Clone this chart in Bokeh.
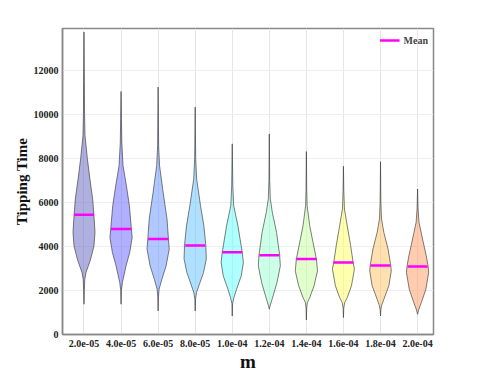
from bokeh.plotting import figure
from bokeh.models import Range1d, FixedTicker, Legend, LegendItem
from bokeh.embed import file_html
from bokeh.resources import INLINE

# ---- data ----
categories = ["2.0e-05", "4.0e-05", "6.0e-05", "8.0e-05", "1.0e-04",
              "1.2e-04", "1.4e-04", "1.6e-04", "1.8e-04", "2.0e-04"]
means = [5440, 4790, 4335, 4045, 3740, 3605, 3425, 3270, 3135, 3085]

# violin profiles: tipping-time knots and relative density (max = 1)
v1_y = [1375, 2000, 2500, 2815, 3425, 4030, 4640, 5440, 6160, 7070, 7990, 9040, 10000, 11500, 13740]
v1_d = [0, 0.03, 0.07, 0.18, 0.6, 0.9, 0.99, 0.89, 0.78, 0.53, 0.3, 0.09, 0.05, 0.035, 0]
v2_y = [1375, 2000, 2360, 3120, 3725, 4410, 4790, 5850, 6760, 7670, 8700, 9800, 11040]
v2_d = [0, 0.03, 0.12, 0.45, 0.78, 1.0, 0.93, 0.75, 0.48, 0.18, 0.07, 0.035, 0]
v3_y = [1070, 1700, 2060, 2510, 3120, 3880, 4335, 5250, 6460, 7670, 8580, 11240]
v3_d = [0, 0.03, 0.09, 0.34, 0.72, 1.0, 0.93, 0.8, 0.45, 0.13, 0.045, 0]
v4_y = [1070, 1600, 1905, 2285, 2815, 3425, 4045, 4940, 5850, 7070, 8000, 10330]
v4_d = [0, 0.03, 0.12, 0.38, 0.75, 1.0, 0.96, 0.78, 0.48, 0.13, 0.045, 0]
v5_y = [840, 1400, 1675, 2060, 2665, 3270, 3725, 4940, 5850, 6760, 8660]
v5_d = [0, 0.03, 0.15, 0.39, 0.81, 1.0, 0.9, 0.51, 0.13, 0.05, 0]
v6_y = [1150, 1300, 1755, 2360, 3120, 3605, 4640, 5550, 6160, 7000, 9110]
v6_d = [0, 0.07, 0.34, 0.69, 0.99, 0.93, 0.65, 0.27, 0.09, 0.035, 0]
v7_y = [660, 1200, 1450, 1675, 2210, 2890, 3425, 4180, 4940, 5850, 6500, 8310]
v7_d = [0, 0.03, 0.09, 0.3, 0.69, 1.0, 0.9, 0.6, 0.3, 0.07, 0.035, 0]
v8_y = [770, 1200, 1450, 1675, 2210, 2970, 3270, 4030, 4940, 5700, 6500, 7640]
v8_d = [0, 0.03, 0.11, 0.34, 0.72, 0.99, 0.87, 0.65, 0.34, 0.09, 0.035, 0]
v9_y = [840, 1100, 1300, 1600, 2210, 2890, 3150, 3880, 4640, 5250, 6000, 7850]
v9_d = [0, 0.03, 0.09, 0.3, 0.75, 0.97, 0.92, 0.68, 0.3, 0.09, 0.035, 0]
v10_y = [920, 1150, 1450, 2060, 2815, 3090, 3575, 4335, 5090, 5700, 6610]
v10_d = [0, 0.12, 0.34, 0.75, 1.0, 0.95, 0.78, 0.45, 0.13, 0.045, 0]

profiles_y = [v1_y, v2_y, v3_y, v4_y, v5_y, v6_y, v7_y, v8_y, v9_y, v10_y]
profiles_d = [v1_d, v2_d, v3_d, v4_d, v5_d, v6_d, v7_d, v8_d, v9_d, v10_d]

colors = ["#6161c1", "#6161ff", "#6191ff", "#61c1ff", "#61ffff",
          "#99ffd1", "#c1ff99", "#ffff61", "#ffc161", "#ff9961"]
y_ticks = [0, 2000, 4000, 6000, 8000, 10000, 12000]

# ---- styling ----
FONT = "Liberation Serif"
HALF = 0.30        # max half-width of a violin in category units
MEAN_HALF = 0.27   # half-length of mean marker

p = figure(width=478, height=376, output_backend="svg", toolbar_location=None,
           x_range=Range1d(-0.58, 9.43), y_range=Range1d(0, 13900),
           min_border_left=62, min_border_right=45, min_border_top=28,
           min_border_bottom=42)

xs, ys = [], []
for i, (py, pd) in enumerate(zip(profiles_y, profiles_d)):
    right = [i + d * HALF for d in pd]
    left = [i - d * HALF for d in pd]
    xs.append(right + left[::-1])
    ys.append(py + py[::-1])

p.patches(xs, ys, fill_color=colors, fill_alpha=0.5,
          line_color="#333333", line_width=0.7, line_alpha=0.9)

idx = list(range(len(categories)))
mean_r = p.segment(x0=[i - MEAN_HALF for i in idx], x1=[i + MEAN_HALF for i in idx],
                   y0=means, y1=means, line_color="#ff00ff", line_width=2.5)

legend = Legend(items=[LegendItem(label="Mean", renderers=[mean_r])],
                location="top_right", margin=5, padding=4, border_line_color=None,
                background_fill_alpha=0, glyph_width=20, glyph_height=14,
                label_height=14, label_standoff=4, label_text_font=FONT,
                label_text_font_style="bold", label_text_font_size="10px")
p.add_layout(legend)

p.xaxis.ticker = FixedTicker(ticks=idx)
p.xaxis.major_label_overrides = {i: c for i, c in enumerate(categories)}
p.yaxis.ticker = FixedTicker(ticks=y_ticks)

for ax in (p.xaxis, p.yaxis):
    ax.major_tick_out = 0
    ax.major_tick_in = 0
    ax.minor_tick_out = 0
    ax.minor_tick_in = 0
    ax.axis_line_color = "#888888"
    ax.axis_line_width = 1.5
    ax.major_label_text_font = FONT
    ax.major_label_text_font_style = "bold"
    ax.major_label_text_font_size = "10px"
    ax.major_label_text_color = "#222222"
    ax.axis_label_text_font = FONT
    ax.axis_label_text_font_style = "bold"
    ax.axis_label_text_color = "#111111"

p.xaxis.axis_label = "m"
p.xaxis.axis_label_text_font_size = "19px"
p.xaxis.major_label_standoff = 5
p.xaxis.axis_label_standoff = 1
p.yaxis.axis_label = "Tipping Time"
p.yaxis.axis_label_text_font_size = "15px"
p.yaxis.major_label_standoff = 4
p.yaxis.axis_label_standoff = 1

p.xgrid.grid_line_color = "#e6e6e6"
p.ygrid.grid_line_color = "#eeeeee"
p.outline_line_color = "#888888"
p.outline_line_width = 1.5
p.background_fill_color = "white"
p.border_fill_color = "white"

open("out.html", "w").write(file_html(p, INLINE))
